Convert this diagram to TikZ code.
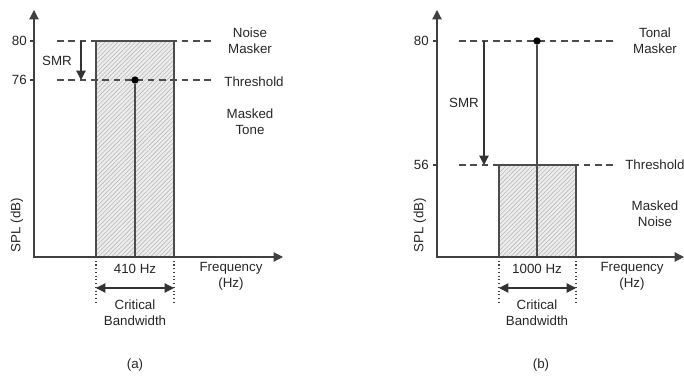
\documentclass[tikz,border=0pt]{standalone}
\usepackage{fontspec}
\setmainfont{Liberation Sans}
\usetikzlibrary{arrows.meta,patterns.meta}
\begin{document}
\begin{tikzpicture}[x=0.75pt,y=-0.75pt,
  font=\fontsize{10}{12}\selectfont,
  every node/.style={text=black!85, inner sep=0pt},
  txt/.style={align=center},
  axis/.style={draw=black!75, line width=0.9pt, {Triangle[length=7pt,width=7pt]}-{Triangle[length=7pt,width=7pt]}},
  dashline/.style={draw=black!70, line width=0.8pt, dash pattern=on 5pt off 3.5pt},
  tick/.style={draw=black!75, line width=0.8pt},
  band/.style={pattern={Lines[angle=45,distance=2.3pt,line width=0.45pt]}, pattern color=black!28},
  bandbg/.style={fill=black!7},
  edge/.style={draw=black!70, line width=0.8pt},
  smr/.style={draw=black!80, line width=0.9pt, -{Triangle[length=7pt,width=7pt]}},
  cb/.style={draw=black!80, line width=0.9pt, {Triangle[length=7pt,width=7pt]}-{Triangle[length=7pt,width=7pt]}},
  dotline/.style={draw=black!75, line width=0.8pt, dotted},
  dot/.style={circle, fill=black, minimum size=5.5pt, inner sep=0pt}
]
\useasboundingbox (0,0) rectangle (684,377);

% ---------------- Panel (a) ----------------
\coordinate (aYtop) at (34,10);
\coordinate (aO) at (34,257);
\coordinate (aXend) at (283,257);
\coordinate (aR1) at (96,41);
\coordinate (aR2) at (174,257);
\coordinate (aStemBot) at (135,257);
\coordinate (aD1s) at (57,41);  \coordinate (aD1e) at (213,41);
\coordinate (aD2s) at (57,80);  \coordinate (aD2e) at (213,80);
\coordinate (aT1) at (30,41); \coordinate (aT1e) at (34,41);
\coordinate (aT2) at (30,80); \coordinate (aT2e) at (34,80);
\coordinate (aS1) at (81,41); \coordinate (aS2) at (81,80);
\coordinate (aL1) at (96,257); \coordinate (aL1e) at (96,303);
\coordinate (aL2) at (174,257); \coordinate (aL2e) at (174,303);
\coordinate (aC1) at (96,288); \coordinate (aC2) at (174,288);

\path[bandbg] (aR1) rectangle (aR2);
\path[band] (aR1) rectangle (aR2);
\draw[edge] (aR1) rectangle (aR2);
\draw[dashline] (aD1s) -- (aD1e);
\draw[dashline] (aD2s) -- (aD2e);
\node[dot] (aDot) at (135,80) {};
\draw[edge] (aDot) -- (aStemBot);
\draw[axis] (aYtop) -- (aO) -- (aXend);
\draw[tick] (aT1) -- (aT1e);
\draw[tick] (aT2) -- (aT2e);
\draw[smr] (aS1) -- (aS2);
\draw[dotline] (aL1) -- (aL1e);
\draw[dotline] (aL2) -- (aL2e);
\draw[cb] (aC1) -- (aC2);

\node[anchor=east] (a80) at (27,41) {80};
\node[anchor=east] (a76) at (27,80) {76};
\node (aSMR) at (57,61) {SMR};
\node[txt] (aNoise) at (250,41) {Noise\\Masker};
\node (aThr) at (254,82) {Threshold};
\node[txt] (aTone) at (250,122) {Masked\\Tone};
\node[rotate=90] (aSPL) at (17,225) {SPL (dB)};
\node (a410) at (135,269) {410 Hz};
\node[txt] (aFreq) at (231,276) {Frequency\\(Hz)};
\node[txt] (aCrit) at (135,313) {Critical\\Bandwidth};
\node (aCap) at (135,365) {(a)};

% ---------------- Panel (b) ----------------
\coordinate (bYtop) at (437,10);
\coordinate (bO) at (437,257);
\coordinate (bXend) at (684,257);
\coordinate (bR1) at (499,165);
\coordinate (bR2) at (576,257);
\coordinate (bStemBot) at (537,257);
\coordinate (bD1s) at (459,41);  \coordinate (bD1e) at (615,41);
\coordinate (bD2s) at (459,165); \coordinate (bD2e) at (615,165);
\coordinate (bT1) at (433,41); \coordinate (bT1e) at (437,41);
\coordinate (bT2) at (433,165); \coordinate (bT2e) at (437,165);
\coordinate (bS1) at (484,41); \coordinate (bS2) at (484,165);
\coordinate (bL1) at (499,257); \coordinate (bL1e) at (499,303);
\coordinate (bL2) at (576,257); \coordinate (bL2e) at (576,303);
\coordinate (bC1) at (499,288); \coordinate (bC2) at (576,288);

\path[bandbg] (bR1) rectangle (bR2);
\path[band] (bR1) rectangle (bR2);
\draw[edge] (bR1) rectangle (bR2);
\draw[dashline] (bD1s) -- (bD1e);
\draw[dashline] (bD2s) -- (bD2e);
\node[dot] (bDot) at (537,41) {};
\draw[edge] (bDot) -- (bStemBot);
\draw[axis] (bYtop) -- (bO) -- (bXend);
\draw[tick] (bT1) -- (bT1e);
\draw[tick] (bT2) -- (bT2e);
\draw[smr] (bS1) -- (bS2);
\draw[dotline] (bL1) -- (bL1e);
\draw[dotline] (bL2) -- (bL2e);
\draw[cb] (bC1) -- (bC2);

\node[anchor=east] (b80) at (429,41) {80};
\node[anchor=east] (b56) at (429,165) {56};
\node (bSMR) at (464,103) {SMR};
\node[txt] (bTonal) at (655,41) {Tonal\\Masker};
\node[anchor=west] (bThr) at (625,165) {Threshold};
\node[txt] (bNoise) at (655,214) {Masked\\Noise};
\node[rotate=90] (bSPL) at (420,225) {SPL (dB)};
\node (b1000) at (537,269) {1000 Hz};
\node[txt] (bFreq) at (632,276) {Frequency\\(Hz)};
\node[txt] (bCrit) at (537,313) {Critical\\Bandwidth};
\node (bCap) at (541,365) {(b)};
\end{tikzpicture}
\end{document}
